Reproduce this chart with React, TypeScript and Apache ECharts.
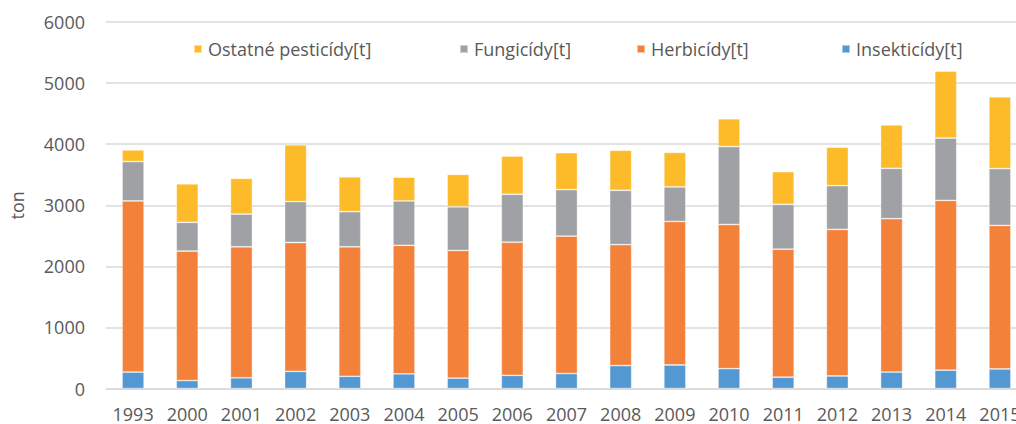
import React, { useEffect, useRef } from "react";
import * as echarts from "echarts";

const years = ["1993", "2000", "2001", "2002", "2003", "2004", "2005", "2006", "2007", "2008", "2009", "2010", "2011", "2012", "2013", "2014", "2015"];
const insekticidy = [270, 130, 175, 280, 200, 240, 170, 215, 245, 375, 385, 325, 185, 205, 270, 300, 320];
const herbicidy = [2800, 2120, 2145, 2110, 2120, 2105, 2090, 2180, 2250, 1980, 2350, 2360, 2095, 2400, 2510, 2780, 2350];
const fungicidy = [645, 470, 535, 670, 575, 725, 715, 785, 760, 890, 565, 1275, 735, 715, 825, 1020, 930];
const ostatne = [190, 630, 585, 930, 570, 390, 530, 625, 605, 655, 565, 455, 535, 630, 710, 1095, 1175];
const yTicks = { min: 0, max: 6000, interval: 1000 };

const names = ["Insekticídy[t]", "Herbicídy[t]", "Fungicídy[t]", "Ostatné pesticídy[t]"];
const colors = ["#5397D3", "#F4813A", "#9FA1A4", "#FEBB29"];
const FONT = "Open Sans";
const TXT = "#595959";

export default function App() {
  const ref = useRef<HTMLDivElement>(null);
  useEffect(() => {
    const chart = echarts.init(ref.current!, null, { renderer: "svg" });
    const dataSets = [insekticidy, herbicidy, fungicidy, ostatne];
    const legendPos: [string, number][] = [
      ["Ostatné pesticídy[t]", 188],
      ["Fungicídy[t]", 454],
      ["Herbicídy[t]", 631],
      ["Insekticídy[t]", 836],
    ];
    chart.setOption({
      animation: false,
      backgroundColor: "#ffffff",
      color: colors,
      grid: { left: 103, right: 3, top: 22, bottom: 35.5 },
      legend: legendPos.map(([n, x]) => ({
        data: [n],
        left: x,
        top: 35,
        icon: "rect",
        itemWidth: 8,
        itemHeight: 8,
        itemGap: 0,
        textStyle: { color: TXT, fontSize: 18, fontFamily: FONT, padding: [0, 0, 0, 1] },
      })),
      xAxis: {
        type: "category",
        data: years,
        axisLine: { show: true, lineStyle: { color: "#D9D9D9", width: 1.5 } },
        axisTick: { show: false },
        axisLabel: { interval: 0, color: TXT, fontSize: 18, fontFamily: FONT, margin: 16 },
      },
      yAxis: {
        type: "value",
        min: yTicks.min,
        max: yTicks.max,
        interval: yTicks.interval,
        name: "ton",
        nameLocation: "middle",
        nameGap: 80,
        nameRotate: 90,
        nameTextStyle: { color: TXT, fontSize: 18, fontFamily: FONT },
        axisLine: { show: false },
        axisTick: { show: false },
        splitLine: { lineStyle: { color: "#D9D9D9", width: 1.5 } },
        axisLabel: { color: TXT, fontSize: 18, fontFamily: FONT, margin: 21, formatter: (v: number) => String(v) },
      },
      series: names.map((n, i) => ({
        name: n,
        type: "bar",
        stack: "total",
        barWidth: 22,
        data: dataSets[i],
        itemStyle: { color: colors[i], borderColor: "rgba(255,255,255,0.5)", borderWidth: 0.75 },
      })),
    });
    return () => chart.dispose();
  }, []);
  return <div ref={ref} style={{ position: "fixed", left: 0, top: 0, width: 1030, height: 424 }} />;
}
